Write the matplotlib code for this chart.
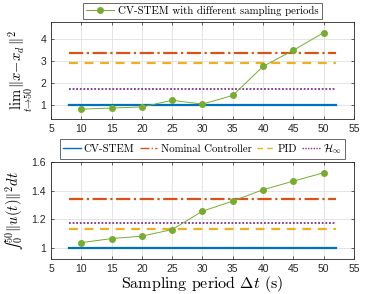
import numpy as np
import matplotlib
matplotlib.use("Agg")
import matplotlib.pyplot as plt

# sampling periods and results
periods = [10, 15, 20, 25, 30, 35, 40, 45, 50]
err_cvstem_sampled = [0.80, 0.85, 0.90, 1.20, 1.03, 1.42, 2.74, 3.47, 4.27]
ctrl_cvstem_sampled = [1.039, 1.067, 1.084, 1.130, 1.258, 1.328, 1.407, 1.467, 1.525]

# constant baselines (continuous controllers)
line_x = [8, 52]
err_base = {"CV-STEM": 1.0, "Nominal Controller": 3.33, "PID": 2.89, "Hinf": 1.73}
ctrl_base = {"CV-STEM": 1.0, "Nominal Controller": 1.342, "PID": 1.133, "Hinf": 1.179}

labels = {"CV-STEM": "CV-STEM", "Nominal Controller": "Nominal Controller",
          "PID": "PID", "Hinf": r"$\mathcal{H}_\infty$"}
styles = {"CV-STEM": dict(color="#0072BD", ls="-", lw=1.6),
          "Nominal Controller": dict(color="#D95319", ls="-.", lw=1.6),
          "PID": dict(color="#EDB120", ls=(0, (4, 3)), lw=1.6),
          "Hinf": dict(color="#7E2F8E", ls=(0, (1, 1)), lw=1.3)}

plt.rcParams["mathtext.fontset"] = "cm"
plt.rcParams["font.family"] = ["Liberation Sans", "DejaVu Sans"]
serif = ["cmr10", "DejaVu Serif"]

fig = plt.figure(figsize=(3.92, 2.94), dpi=100)
ax1 = fig.add_axes([0.130, 0.595, 0.773, 0.330])
ax2 = fig.add_axes([0.130, 0.119, 0.773, 0.330])


def style_axes(ax):
    ax.set_xlim(5, 55)
    ax.set_xticks(np.arange(5, 56, 5))
    ax.grid(True, color="#e0e0e0", lw=0.6)
    ax.set_axisbelow(True)
    ax.tick_params(labelsize=7.5, length=2.5, width=0.5, direction="in",
                   top=True, right=True, colors="#262626")
    for s in ax.spines.values():
        s.set_linewidth(0.6)
        s.set_color("#262626")


# top panel: tracking error
for k in ["CV-STEM", "Nominal Controller", "PID", "Hinf"]:
    ax1.plot(line_x, [err_base[k]] * 2, **styles[k])
h1, = ax1.plot(periods, err_cvstem_sampled, "-o", color="#77AC30", lw=0.7,
               ms=4, markerfacecolor="#77AC30", markeredgecolor="#77AC30")
style_axes(ax1)
ax1.set_ylim(0.35, 4.75)
ax1.set_yticks([1, 2, 3, 4])
ax1.set_ylabel(r"$\lim_{t\to 50}\|x-x_d\|^2$", fontsize=10.5, labelpad=4)
leg1 = ax1.legend([h1], ["CV-STEM with different sampling periods"],
                  loc="lower center", bbox_to_anchor=(0.5, 1.0),
                  borderaxespad=0.25, fancybox=False, edgecolor="#262626",
                  prop={"family": serif, "size": 7.8}, handlelength=2.6,
                  borderpad=0.3, handletextpad=0.4)
leg1.get_frame().set_linewidth(0.6)

# bottom panel: control effort
hs = []
for k in ["CV-STEM", "Nominal Controller", "PID", "Hinf"]:
    h, = ax2.plot(line_x, [ctrl_base[k]] * 2, label=labels[k], **styles[k])
    hs.append(h)
ax2.plot(periods, ctrl_cvstem_sampled, "-o", color="#77AC30", lw=0.7,
         ms=4, markerfacecolor="#77AC30", markeredgecolor="#77AC30")
style_axes(ax2)
ax2.set_ylim(0.925, 1.6)
ax2.set_yticks([1, 1.2, 1.4, 1.6])
ax2.set_yticklabels(["1", "1.2", "1.4", "1.6"])
ax2.set_ylabel("$\u222b_0^{50}\\|u(t)\\|^2dt$", fontsize=10.5, labelpad=4)
ax2.set_xlabel(r"Sampling period $\Delta t$ (s)", family=serif, fontsize=11.5,
               labelpad=0)
leg2 = ax2.legend(hs, [labels[k] for k in labels], loc="lower center",
                  bbox_to_anchor=(0.5, 1.0), ncol=4, borderaxespad=0.25,
                  fancybox=False, edgecolor="#262626",
                  prop={"family": serif, "size": 7.8}, handlelength=1.6,
                  borderpad=0.3, handletextpad=0.3, columnspacing=0.5)
leg2.get_frame().set_linewidth(0.6)
for line in leg2.get_lines():
    line.set_linewidth(1.0)

fig.savefig("out.png", dpi=100)
